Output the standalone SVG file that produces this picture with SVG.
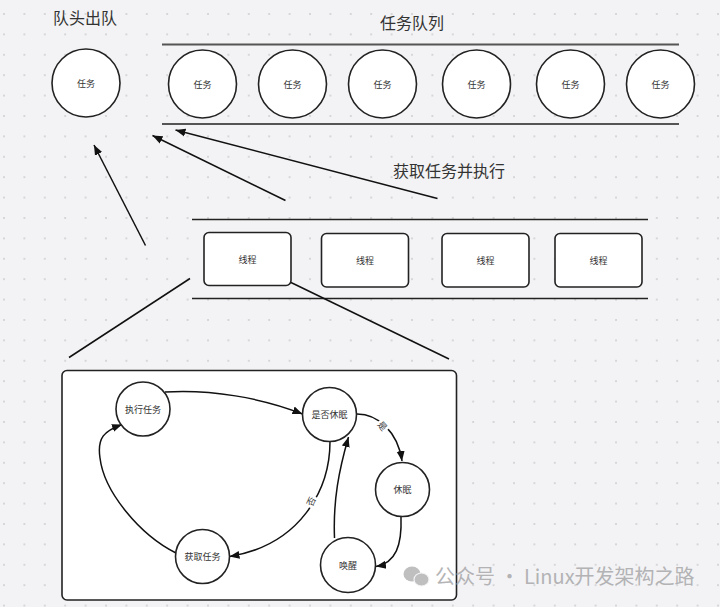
<svg xmlns="http://www.w3.org/2000/svg" width="720" height="607" viewBox="0 0 720 607">
<defs>
  <pattern id="grid" x="3" y="13" width="20.4" height="20.4" patternUnits="userSpaceOnUse">
    <circle cx="1" cy="1" r="0.9" fill="#c9c9cc"/>
  </pattern>
  <marker id="arr" viewBox="0 0 10 10" refX="10" refY="5" markerWidth="10" markerHeight="10" markerUnits="userSpaceOnUse" orient="auto">
    <path d="M0,1 L10,5 L0,9 Z" fill="#111"/>
  </marker>
</defs>
<style>
  .bg { fill: #f3f3f5; }
  .node { fill: #ffffff; stroke: #222; stroke-width: 1.6; }
  .lbl { font-family: "Noto Sans CJK SC", "Noto Sans", sans-serif; font-size: 9px; fill: #333; text-anchor: middle; dominant-baseline: central; }
  .title { font-family: "Noto Sans CJK SC", "Noto Sans", sans-serif; font-size: 16px; fill: #333; }
  .rail { stroke: #555; stroke-width: 2; fill: none; }
  .rail2 { stroke: #222; stroke-width: 1.5; fill: none; }
  .edge { stroke: #111; stroke-width: 1.5; fill: none; }
  .arrow { stroke: #111; stroke-width: 1.5; fill: none; marker-end: url(#arr); }
</style>
<rect class="bg" x="0" y="0" width="720" height="607"/>
<rect x="0" y="0" width="720" height="607" fill="url(#grid)"/>

<text class="title" x="53" y="24">队头出队</text>
<text class="title" x="380" y="29">任务队列</text>
<text class="title" x="393" y="177">获取任务并执行</text>

<g id="queue-rails">
  <line class="rail" x1="162" y1="44.5" x2="679" y2="44.5"/>
  <line class="rail" x1="162" y1="124" x2="679" y2="124"/>
</g>

<g id="task-out"><circle class="node" cx="86" cy="83" r="34"/><text class="lbl" x="86" y="83">任务</text></g>
<g id="task-1"><circle class="node" cx="202.5" cy="84" r="34"/><text class="lbl" x="202.5" y="84">任务</text></g>
<g id="task-2"><circle class="node" cx="292.5" cy="84" r="34"/><text class="lbl" x="292.5" y="84">任务</text></g>
<g id="task-3"><circle class="node" cx="382.5" cy="84" r="34"/><text class="lbl" x="382.5" y="84">任务</text></g>
<g id="task-4"><circle class="node" cx="476.5" cy="84" r="34"/><text class="lbl" x="476.5" y="84">任务</text></g>
<g id="task-5"><circle class="node" cx="570.5" cy="84" r="34"/><text class="lbl" x="570.5" y="84">任务</text></g>
<g id="task-6"><circle class="node" cx="660.5" cy="84" r="34"/><text class="lbl" x="660.5" y="84">任务</text></g>

<g id="thread-rails">
  <line class="rail2" x1="192" y1="219.5" x2="648" y2="219.5"/>
  <line class="rail2" x1="192" y1="298.5" x2="648" y2="298.5"/>
</g>

<g id="thread-1"><rect class="node" x="204" y="232.5" width="87" height="53" rx="5"/><text class="lbl" x="247.5" y="259">线程</text></g>
<g id="thread-2"><rect class="node" x="321.5" y="233.5" width="87" height="53.5" rx="5"/><text class="lbl" x="365" y="260">线程</text></g>
<g id="thread-3"><rect class="node" x="442" y="233.5" width="87" height="53.5" rx="5"/><text class="lbl" x="485.5" y="260">线程</text></g>
<g id="thread-4"><rect class="node" x="555" y="233.5" width="87" height="53.5" rx="5"/><text class="lbl" x="598.5" y="260">线程</text></g>

<g id="state-panel">
  <rect x="62" y="370.5" width="394.5" height="229.5" rx="5" fill="#ffffff" stroke="#222" stroke-width="1.6"/>
</g>

<g id="connectors">
  <line class="arrow" x1="145.5" y1="245.5" x2="94" y2="145"/>
  <line class="arrow" x1="285.5" y1="200.5" x2="152.5" y2="135.5"/>
  <line class="arrow" x1="437.5" y1="198.5" x2="175.5" y2="130"/>
  <line class="edge" x1="190" y1="278.5" x2="69" y2="357.5"/>
  <line class="edge" x1="291" y1="282.5" x2="449" y2="359"/>

  <path class="arrow" d="M165,392 C210,389 262,398 302.5,414"/>
  <path class="arrow" d="M357,414 C378,414 398,432 402,461"/>
  <path class="arrow" d="M401,517 C402,545 396,563 376,566.5"/>
  <path class="arrow" d="M334.5,538 C333,500 339,470 348.5,437"/>
  <path class="arrow" d="M330,441.5 C330,490 300,545 229.5,556.5"/>
  <path class="arrow" d="M176,553 C140,535 104,492 100,458 C97,438 104,431 122,424.5"/>

  <g transform="translate(382.5,426) rotate(50)">
    <rect x="-6" y="-6" width="12" height="12" fill="#ffffff"/>
    <text class="lbl" x="0" y="0">是</text>
  </g>
  <g transform="translate(311,501.5) rotate(-65)">
    <rect x="-6" y="-6" width="12" height="12" fill="#ffffff"/>
    <text class="lbl" x="0" y="0">否</text>
  </g>
</g>

<g id="exec"><circle class="node" cx="143" cy="409" r="27"/><text class="lbl" x="143" y="409">执行任务</text></g>
<g id="sleep-check"><circle class="node" cx="329.5" cy="414.5" r="27"/><text class="lbl" x="329.5" y="414.5">是否休眠</text></g>
<g id="sleep"><circle class="node" cx="402.5" cy="489.5" r="27"/><text class="lbl" x="402.5" y="489.5">休眠</text></g>
<g id="wake"><circle class="node" cx="348" cy="565" r="27.5"/><text class="lbl" x="348" y="565">唤醒</text></g>
<g id="fetch"><circle class="node" cx="202.5" cy="556.5" r="27"/><text class="lbl" x="202.5" y="556.5">获取任务</text></g>

<g id="watermark" opacity="0.85">
  <ellipse cx="412" cy="574" rx="8.5" ry="7.5" fill="#b4b4b6"/>
  <ellipse cx="421.5" cy="579.5" rx="7.5" ry="6.5" fill="#b4b4b6" stroke="#f3f3f5" stroke-width="1.2"/>
  <text x="435" y="584" font-family="Noto Sans CJK SC, Noto Sans, sans-serif" font-size="20" fill="#a8a8aa">公众号 · Linux开发架构之路</text>
</g>
</svg>
